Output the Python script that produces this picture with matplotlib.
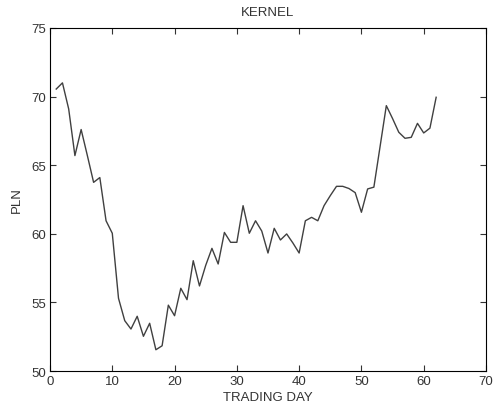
import numpy as np
import matplotlib
matplotlib.use("Agg")
import matplotlib.pyplot as plt

plt.rcParams['font.family'] = ['Liberation Sans', 'DejaVu Sans']

# closing price of KERNEL per trading day
days = list(range(1, 63))
price = [70.55, 71.0, 69.1, 65.7, 67.6, 65.7, 63.75, 64.1, 60.95, 60.04,
         55.3, 53.67, 53.06, 53.99, 52.53, 53.48, 51.55, 51.84, 54.8, 54.03,
         56.03, 55.2, 58.04, 56.2, 57.7, 58.94, 57.8, 60.1, 59.38, 59.38,
         62.05, 60.04, 60.95, 60.2, 58.6, 60.4, 59.55, 59.99, 59.33, 58.6,
         60.95, 61.2, 60.95, 62.05, 62.78, 63.46, 63.46, 63.3, 63.0, 61.57,
         63.27, 63.4, 66.37, 69.34, 68.4, 67.4, 66.96, 67.03, 68.05, 67.35,
         67.7, 69.95]

xticks = [0, 10, 20, 30, 40, 50, 60, 70]
yticks = [50, 55, 60, 65, 70, 75]

fig = plt.figure(figsize=(4.96, 4.14), dpi=100)
ax = fig.add_axes([0.1008, 0.1014, 0.879, 0.8286])

ax.plot(days, price, color='#404040', linewidth=1.0)

ax.set_xlim(0, 70)
ax.set_ylim(50, 75)
ax.set_xticks(xticks)
ax.set_yticks(yticks)
ax.tick_params(direction='in', length=4, width=0.8, top=True, right=True,
               labelsize=9.5, colors='#333333', pad=3)
for s in ax.spines.values():
    s.set_linewidth(0.8)

ax.set_title('KERNEL', fontsize=9.5, color='#333333', pad=9)
ax.set_xlabel('TRADING DAY', fontsize=9.5, color='#333333', labelpad=3)
ax.set_ylabel('PLN', fontsize=9.5, color='#333333', labelpad=6)

fig.savefig('out.png', dpi=100)
